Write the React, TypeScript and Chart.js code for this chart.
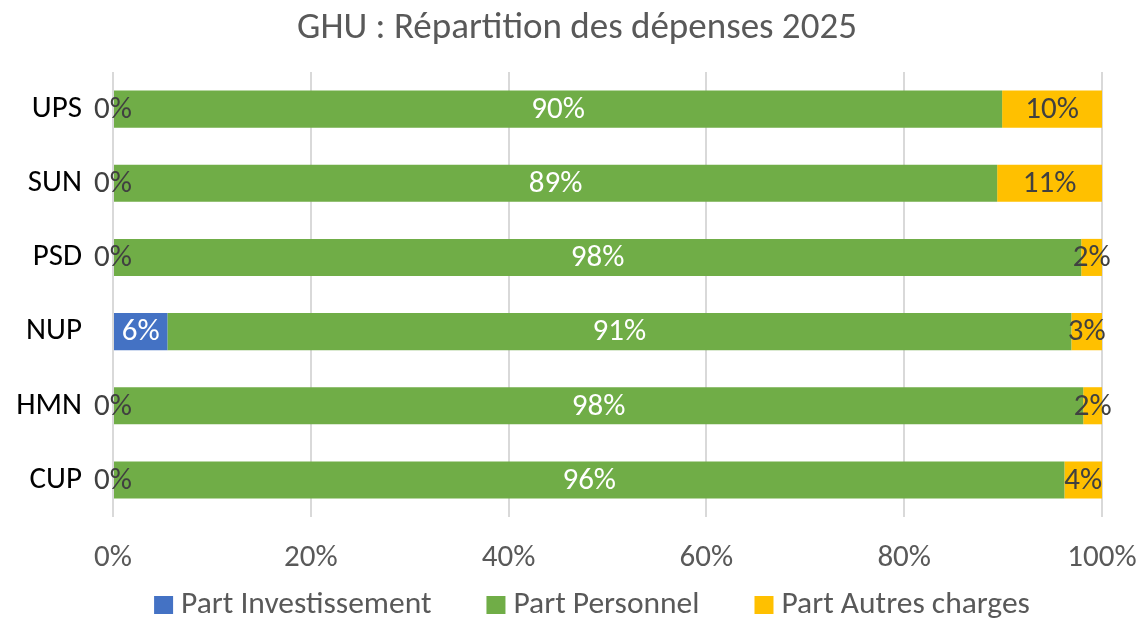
import React, { useEffect, useRef } from "react";
import { Chart, registerables } from "chart.js";

Chart.register(...registerables);

const TITLE = "GHU : Répartition des dépenses 2025";
const categories = ["UPS", "SUN", "PSD", "NUP", "HMN", "CUP"];
const seriesNames = ["Part Investissement", "Part Personnel", "Part Autres charges"];
const investissement = [0, 0, 0, 5.5, 0, 0];
const personnel = [89.9, 89.4, 97.9, 91.4, 98.1, 96.2];
const autres = [10.1, 10.6, 2.1, 3.1, 1.9, 3.8];
const xTicks = [0, 20, 40, 60, 80, 100];

const COLORS = ["#4472C4", "#70AD47", "#FFC000"];
const LABEL_COLORS = ["#FFFFFF", "#FFFFFF", "#404040"];
const DARK = "#404040";
const GRAY = "#595959";
const FONT = "Carlito, Lato, sans-serif";
const FS = 31;
const LEGEND_FS = 31.5;

const segLabels = {
  id: "segLabels",
  afterDatasetsDraw(chart: any) {
    const ctx = chart.ctx;
    ctx.save();
    ctx.font = `${FS}px ${FONT}`;
    ctx.textAlign = "center";
    ctx.textBaseline = "middle";
    chart.data.datasets.forEach((ds: any, di: number) => {
      const meta = chart.getDatasetMeta(di);
      meta.data.forEach((el: any, i: number) => {
        const v = ds.data[i];
        const p = el.getProps(["x", "y", "base"], true);
        const cx = (p.x + p.base) / 2;
        ctx.fillStyle = v === 0 ? DARK : LABEL_COLORS[di];
        ctx.fillText(Math.round(v) + "%", cx, p.y + 1);
      });
    });
    ctx.restore();
  },
};

const excelTitle = {
  id: "excelTitle",
  afterDraw(chart: any) {
    const ctx = chart.ctx;
    ctx.save();
    ctx.font = `37px ${FONT}`;
    ctx.fillStyle = GRAY;
    ctx.textAlign = "center";
    ctx.textBaseline = "alphabetic";
    ctx.fillText(TITLE, 577, 38);
    ctx.restore();
  },
};

const excelLegend = {
  id: "excelLegend",
  afterDraw(chart: any) {
    const ctx = chart.ctx;
    ctx.save();
    ctx.font = `${LEGEND_FS}px ${FONT}`;
    ctx.textBaseline = "middle";
    ctx.textAlign = "left";
    const boxW = 19;
    const boxH = 18;
    const gap = 8;
    const itemGap = 55;
    const items = chart.data.datasets.map((ds: any) => ({
      text: ds.label,
      color: ds.backgroundColor,
      w: ctx.measureText(ds.label).width,
    }));
    const total =
      items.reduce((s: number, it: any) => s + boxW + gap + it.w, 0) + itemGap * (items.length - 1);
    let x = 592 - total / 2;
    const y = chart.height - 15;
    items.forEach((it: any) => {
      ctx.fillStyle = it.color;
      ctx.fillRect(x, y - boxH / 2, boxW, boxH);
      ctx.fillStyle = GRAY;
      ctx.fillText(it.text, x + boxW + gap, y);
      x += boxW + gap + it.w + itemGap;
    });
    ctx.restore();
  },
};

export default function App() {
  const ref = useRef<HTMLCanvasElement>(null);
  useEffect(() => {
    if (!ref.current) return;
    const values = [investissement, personnel, autres];
    const chart = new Chart(ref.current, {
      type: "bar",
      data: {
        labels: categories,
        datasets: seriesNames.map((name, i) => ({
          label: name,
          data: values[i],
          backgroundColor: COLORS[i],
          borderWidth: 0,
          barPercentage: 0.5,
          categoryPercentage: 1,
        })),
      },
      options: {
        indexAxis: "y",
        responsive: false,
        animation: false,
        layout: { padding: { left: 0, right: 39, top: 72, bottom: 43 } },
        plugins: {
          legend: { display: false },
          tooltip: { enabled: false },
          title: { display: false },
        },
        scales: {
          x: {
            stacked: true,
            min: 0,
            max: 100,
            afterBuildTicks(scale: any) {
              scale.ticks = xTicks.map((v) => ({ value: v }));
            },
            afterFit(scale: any) {
              scale.height = 60;
              scale.paddingLeft = 0;
              scale.paddingRight = 0;
            },
            grid: { color: "#D9D9D9", lineWidth: 2, drawTicks: false },
            border: { display: false },
            ticks: {
              color: GRAY,
              font: { family: FONT, size: FS },
              padding: 23,
              maxRotation: 0,
              callback: (v: any) => v + "%",
            },
          },
          y: {
            stacked: true,
            afterFit(scale: any) {
              scale.width = 113;
              scale.paddingTop = 0;
              scale.paddingBottom = 0;
            },
            grid: { display: false, drawTicks: false },
            border: { display: false },
            ticks: {
              color: "#000000",
              font: { family: FONT, size: FS },
              padding: 31,
            },
          },
        },
      },
      plugins: [segLabels, excelTitle, excelLegend],
    });
    return () => chart.destroy();
  }, []);
  return (
    <canvas
      ref={ref}
      width={1141}
      height={620}
      style={{ position: "fixed", left: 0, top: 0, display: "block" }}
    />
  );
}
